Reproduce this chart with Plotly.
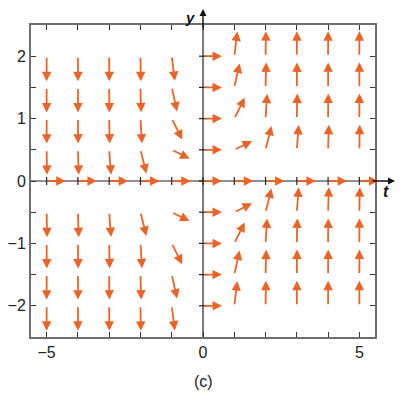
import numpy as np
import plotly.graph_objects as go

# grid of the direction field
t_values = [-5, -4, -3, -2, -1, 0, 1, 2, 3, 4, 5]
y_values = [2, 1.5, 1, 0.5, 0, -0.5, -1, -1.5, -2]
# slopes dy/dt read at each grid point (rows follow y_values, columns t_values)
slopes = [
    [-500, -256, -108, -32, -4, 0, 4, 32, 108, 256, 500],
    [-281.25, -144, -60.75, -18, -2.25, 0, 2.25, 18, 60.75, 144, 281.25],
    [-125, -64, -27, -8, -1, 0, 1, 8, 27, 64, 125],
    [-31.25, -16, -6.75, -2, -0.25, 0, 0.25, 2, 6.75, 16, 31.25],
    [0, 0, 0, 0, 0, 0, 0, 0, 0, 0, 0],
    [-31.25, -16, -6.75, -2, -0.25, 0, 0.25, 2, 6.75, 16, 31.25],
    [-125, -64, -27, -8, -1, 0, 1, 8, 27, 64, 125],
    [-281.25, -144, -60.75, -18, -2.25, 0, 2.25, 18, 60.75, 144, 281.25],
    [-500, -256, -108, -32, -4, 0, 4, 32, 108, 256, 500],
]
x_tick_vals = [-5, -4, -3, -2, -1, 0, 1, 2, 3, 4, 5]
x_tick_text = ["\u22125", "", "", "", "", "0", "", "", "", "", "5"]
y_tick_vals = [-2, -1.5, -1, -0.5, 0, 0.5, 1, 1.5, 2]
y_tick_text = ["\u22122", "", "\u22121", "", "0", "", "1", "", "2"]

X_RANGE = [-5.5, 5.5]
Y_RANGE = [-2.5, 2.5]
W, H = 405, 396
OFF = 8  # page offset of the figure
# target plot area in screen pixels
SX0, SX1, SY0, SY1 = 31, 375, 25, 337
ML = SX0 - OFF
MT = SY0 - OFF
MR = W - (SX1 - OFF)
MB = H - (SY1 - OFF)
PW = SX1 - SX0
PH = SY1 - SY0
sx = PW / (X_RANGE[1] - X_RANGE[0])  # px per t unit
sy = PH / (Y_RANGE[1] - Y_RANGE[0])  # px per y unit


def paper_x(px):
    return (px - SX0) / PW


def paper_y(py):
    return (SY1 - py) / PH


ORANGE = "#ea6428"
L_H, L_V = 19.0, 25.0  # arrow length in px (horizontal / vertical)

annotations = []
for i, yv in enumerate(y_values):
    for j, tv in enumerate(t_values):
        s = slopes[i][j]
        px, py = 1.0 * sx, s * sy
        n = np.hypot(px, py)
        c, si = px / n, py / n
        L = 1.0 / np.sqrt((c / L_H) ** 2 + (si / L_V) ** 2)
        dx = c * L / sx
        dy = si * L / sy
        annotations.append(dict(
            x=tv + dx, y=yv + dy, ax=tv, ay=yv,
            xref="x", yref="y", axref="x", ayref="y",
            showarrow=True, arrowhead=2, arrowsize=1.05, arrowwidth=1.8,
            arrowcolor=ORANGE, standoff=0, startstandoff=0, text="",
        ))

shapes = []
# zero axes
shapes.append(dict(type="line", xref="x", yref="y", x0=X_RANGE[0], x1=X_RANGE[1], y0=0, y1=0,
                   line=dict(color="#222", width=1.2), layer="below"))
shapes.append(dict(type="line", xref="x", yref="y", x0=0, x1=0, y0=Y_RANGE[0], y1=Y_RANGE[1],
                   line=dict(color="#222", width=1.2), layer="below"))
for tv in x_tick_vals:
    shapes.append(dict(type="line", xref="x", yref="y", ysizemode="pixel", yanchor=0,
                       x0=tv, x1=tv, y0=-4, y1=4, line=dict(color="#222", width=1.2), layer="below"))
for yv in y_tick_vals:
    shapes.append(dict(type="line", xref="x", yref="y", xsizemode="pixel", xanchor=0,
                       x0=-4, x1=4, y0=yv, y1=yv, line=dict(color="#222", width=1.2), layer="below"))

# axis arrowheads beyond frame
annotations.append(dict(x=paper_x(395), y=0.5, xref="paper", yref="paper", ax=-24, ay=0,
                        showarrow=True, arrowhead=2, arrowsize=1.0, arrowwidth=1.4,
                        arrowcolor="#111", text=""))
annotations.append(dict(x=0.5, y=paper_y(9), xref="paper", yref="paper", ax=0, ay=20,
                        showarrow=True, arrowhead=2, arrowsize=1.0, arrowwidth=1.4,
                        arrowcolor="#111", text=""))
annotations.append(dict(x=paper_x(386), y=paper_y(191), xref="paper", yref="paper",
                        xanchor="center", yanchor="middle",
                        text="<b><i>t</i></b>", showarrow=False,
                        font=dict(family="Liberation Sans", size=16, color="#111")))
annotations.append(dict(x=paper_x(190), y=paper_y(17), xref="paper", yref="paper",
                        xanchor="center", yanchor="middle",
                        text="<b><i>y</i></b>", showarrow=False,
                        font=dict(family="Liberation Sans", size=15, color="#111")))
annotations.append(dict(x=0.5, y=paper_y(381), xref="paper", yref="paper",
                        xanchor="center", yanchor="middle",
                        text="(c)", showarrow=False,
                        font=dict(family="Liberation Sans", size=16, color="#222")))

fig = go.Figure()
fig.add_trace(go.Scatter(x=[None], y=[None], mode="markers", showlegend=False, hoverinfo="skip"))

axis_common = dict(showline=True, linecolor="#6e6e6e", linewidth=2, mirror="ticks",
                   ticks="inside", ticklen=5, tickcolor="#333", tickwidth=1.2,
                   showgrid=False, zeroline=False, automargin=False,
                   tickfont=dict(family="Liberation Sans", size=16, color="#222"))
fig.update_xaxes(range=X_RANGE, tickmode="array", tickvals=x_tick_vals, ticktext=x_tick_text,
                 **axis_common)
fig.update_yaxes(range=Y_RANGE, tickmode="array", tickvals=y_tick_vals, ticktext=y_tick_text,
                 **axis_common)
fig.update_layout(width=W, height=H, margin=dict(l=ML, r=MR, t=MT, b=MB),
                  plot_bgcolor="white", paper_bgcolor="white",
                  annotations=annotations, shapes=shapes, showlegend=False)
fig.write_html("out.html")
